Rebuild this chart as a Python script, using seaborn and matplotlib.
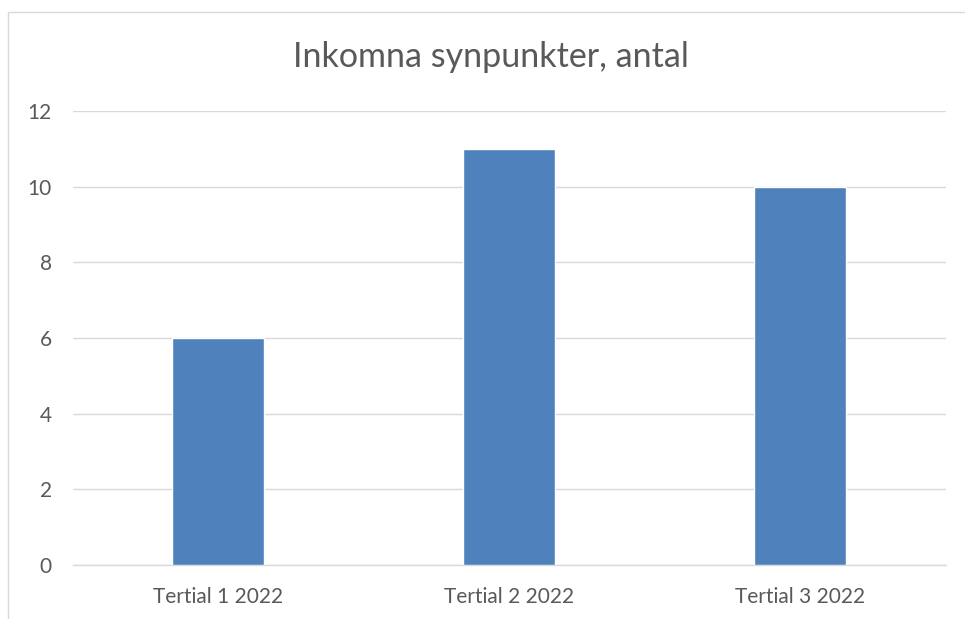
import matplotlib
matplotlib.use("Agg")
import matplotlib.pyplot as plt
import seaborn as sns
import pandas as pd
from matplotlib.patches import Rectangle

# data
categories = ["Tertial 1 2022", "Tertial 2 2022", "Tertial 3 2022"]
values = [6, 11, 10]
title = "Inkomna synpunkter, antal"

sns.set_style("white")
plt.rcParams['font.family'] = ['Lato', 'DejaVu Sans']

df = pd.DataFrame({"period": categories, "antal": values})

fig = plt.figure(figsize=(9.65, 6.19), dpi=100)
ax = fig.add_axes([72.5 / 965, 1 - 565 / 619, 873 / 965, 454 / 619])

sns.barplot(data=df, x="period", y="antal", color="#4f81bd", width=0.313,
            saturation=1, ax=ax, zorder=3)

ax.set_ylim(0, 12)
ax.set_xlim(-0.5, 2.5)
ax.set_yticks(range(0, 13, 2))
ax.yaxis.grid(True, color="#d9d9d9", linewidth=1.0, zorder=0)
ax.set_axisbelow(True)
ax.set_xlabel("")
ax.set_ylabel("")
for side in ["top", "right", "left"]:
    ax.spines[side].set_visible(False)
ax.spines["bottom"].set_color("#d9d9d9")
ax.spines["bottom"].set_linewidth(1.0)
ax.tick_params(axis="both", length=0, labelsize=15, colors="#595959")
ax.tick_params(axis="y", pad=15)
ax.tick_params(axis="x", pad=16)

fig.text(491 / 965, 1 - 57 / 619, title, ha="center", va="center",
         fontsize=24.5, color="#595959")

# chart frame (cut off at right and bottom)
fig.patches.append(Rectangle((8 / 965, -0.05), 1.0, 1.05 - 12 / 619,
                             transform=fig.transFigure, fill=False,
                             edgecolor="#d9d9d9", linewidth=1.0))

fig.savefig("out.png", dpi=100)
